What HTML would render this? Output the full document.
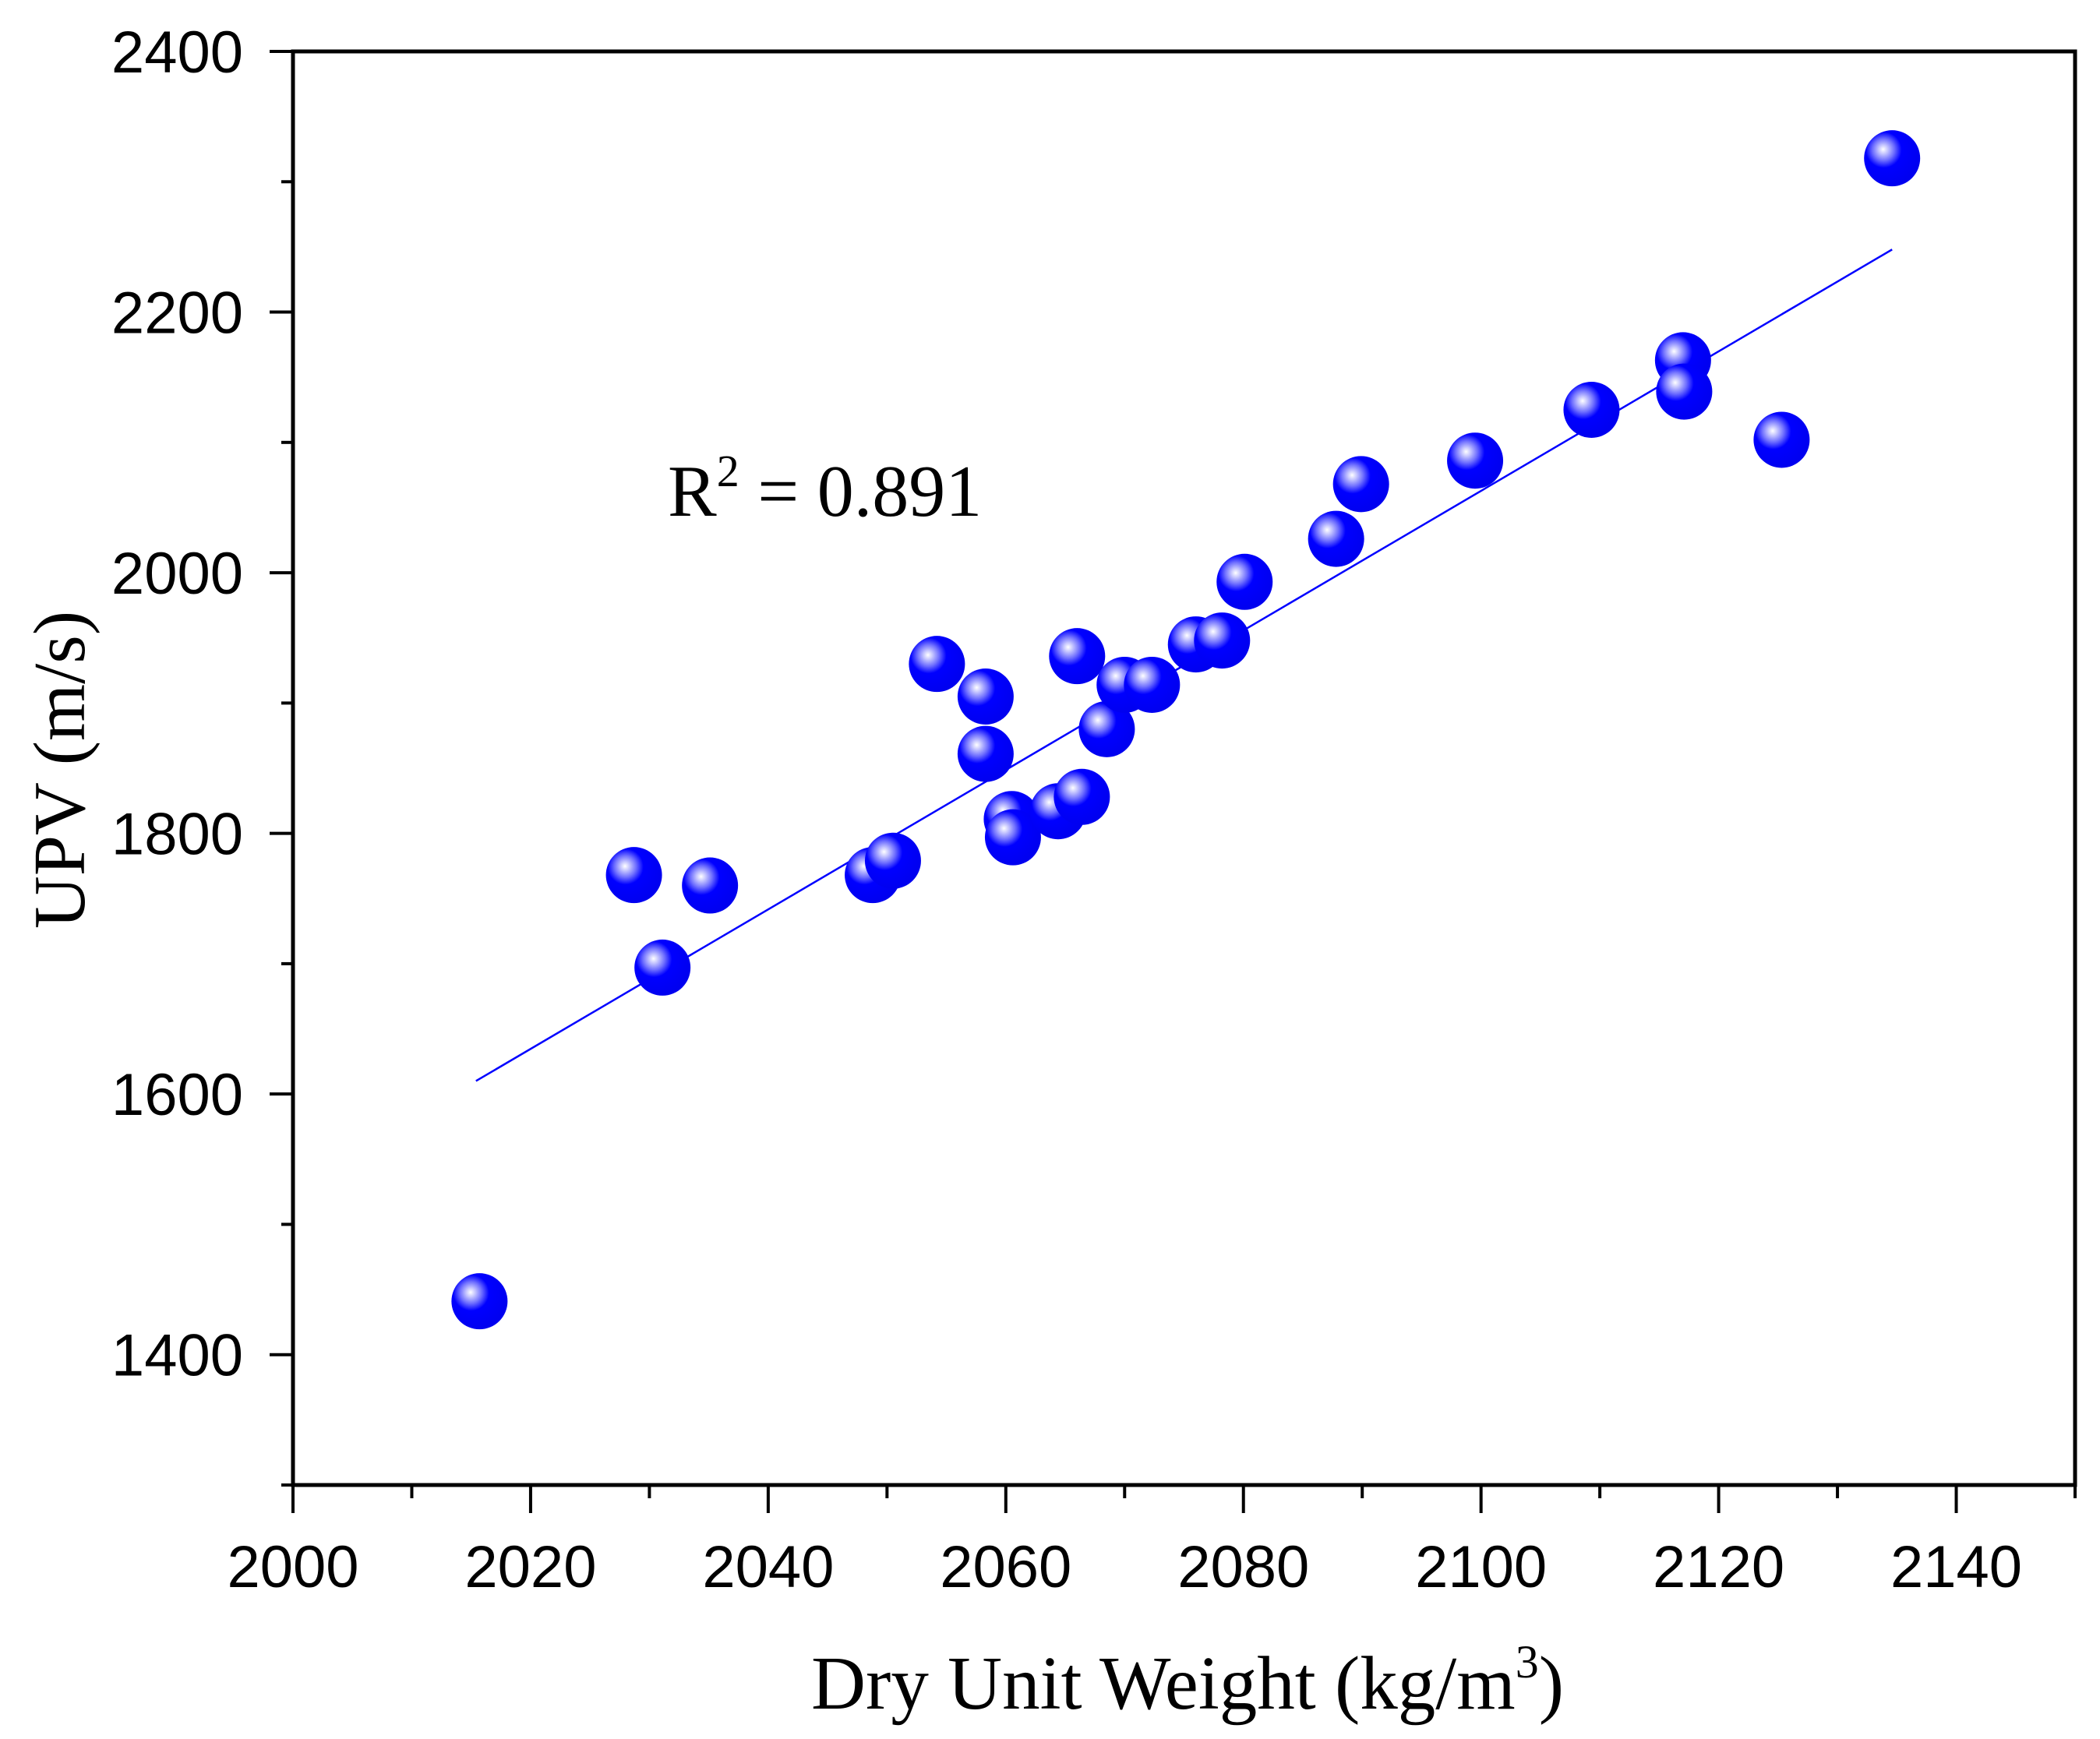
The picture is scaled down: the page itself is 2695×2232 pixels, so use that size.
<!DOCTYPE html>
<html><head><meta charset="utf-8"><style>
html,body{margin:0;padding:0;background:#fff;}
svg{display:block;}
</style></head><body>
<svg id="chart" width="2695" height="2232" viewBox="0 0 2695 2232" xmlns="http://www.w3.org/2000/svg">
<defs>
<radialGradient id="ball" cx="0.36" cy="0.36" r="0.64" fx="0.34" fy="0.34">
<stop offset="0" stop-color="#ffffff"/>
<stop offset="0.12" stop-color="#c8c8ff"/>
<stop offset="0.3" stop-color="#7070ff"/>
<stop offset="0.5" stop-color="#0000ff"/>
<stop offset="1" stop-color="#0000f0"/>
</radialGradient>
</defs>
<g id="axes"></g>
<g id="fit"></g>
<g id="points"></g>
<text x="857" y="662" font-family="'Liberation Serif', serif" font-size="94" fill="#000">R<tspan dy="-38" font-size="58">2</tspan><tspan dy="38"> = 0.891</tspan></text>
<text x="1524" y="2193" text-anchor="middle" font-family="'Liberation Serif', serif" font-size="97" fill="#000">Dry Unit Weight (kg/m<tspan dy="-40" font-size="60">3</tspan><tspan dy="40">)</tspan></text>
<text transform="translate(108,988) rotate(-90)" text-anchor="middle" font-family="'Liberation Serif', serif" font-size="94" fill="#000">UPV (m/s)</text>
</svg>
<script>
const xData = [2015.7,2028.7,2031.1,2035.1,2048.8,2050.5,2054.2,2058.3,2058.3,2060.5,2060.6,2064.4,2066.4,2066.0,2068.5,2070.0,2072.3,2076.0,2078.2,2080.1,2087.8,2089.9,2099.5,2109.3,2117.0,2117.1,2125.3,2134.6];
const yData = [1441,1768,1697,1760,1768,1779,1930,1905,1861,1811,1797,1817,1828,1936,1880,1914,1914,1945,1948,1993,2026,2068,2086,2125,2163,2139,2102,2318];
const fitX = [2015.4,2134.6];
const fitY = [1610,2248];
const xTicks = [2000,2020,2040,2060,2080,2100,2120,2140];
const yTicks = [1400,1600,1800,2000,2200,2400];
const xMin=2000,xMax=2150,yMin=1300,yMax=2400;
const L=376,R=2663,T=66,B=1906;
const NS='http://www.w3.org/2000/svg';
function sx(v){return L+(v-xMin)/(xMax-xMin)*(R-L);}
function sy(v){return B-(v-yMin)/(yMax-yMin)*(B-T);}
function mk(tag,attrs,parent){const e=document.createElementNS(NS,tag);for(const k in attrs)e.setAttribute(k,attrs[k]);parent.appendChild(e);return e;}
const axes=document.getElementById('axes');
const frame=mk('rect',{x:L,y:T,width:R-L,height:B-T,fill:'none',stroke:'#000','stroke-width':5},axes);


for(let v=xMin;v<=xMax;v+=10){
  const major=(v%20===0);
  const t=mk('line',{x1:sx(v),x2:sx(v),y1:B,y2:B+(major?36:17),stroke:'#000','stroke-width':4},axes);
  
  
}
for(let v=yMin;v<=yMax;v+=100){
  const major=(v%200===0);
  const t=mk('line',{x1:L,x2:L-(major?30:15),y1:sy(v),y2:sy(v),stroke:'#000','stroke-width':4},axes);
  
  
}
xTicks.forEach(v=>{
  const t=mk('text',{x:sx(v),y:2037,'text-anchor':'middle','font-family':"'Liberation Sans', sans-serif",'font-size':76,fill:'#000'},axes);
  t.textContent=String(v);
  
  
});
yTicks.forEach(v=>{
  const t=mk('text',{x:312,y:sy(v)+27,'text-anchor':'end','font-family':"'Liberation Sans', sans-serif",'font-size':76,fill:'#000'},axes);
  t.textContent=String(v);
  
  
});
const fit=document.getElementById('fit');
const fl=mk('line',{x1:sx(fitX[0]),y1:sy(fitY[0]),x2:sx(fitX[1]),y2:sy(fitY[1]),stroke:'#0000ff','stroke-width':2.5},fit);


const pts=document.getElementById('points');
xData.forEach((xv,i)=>{
  const c=mk('circle',{cx:sx(xv),cy:sy(yData[i]),r:36,fill:'url(#ball)'},pts);
  
  
});
</script>
</body></html>
